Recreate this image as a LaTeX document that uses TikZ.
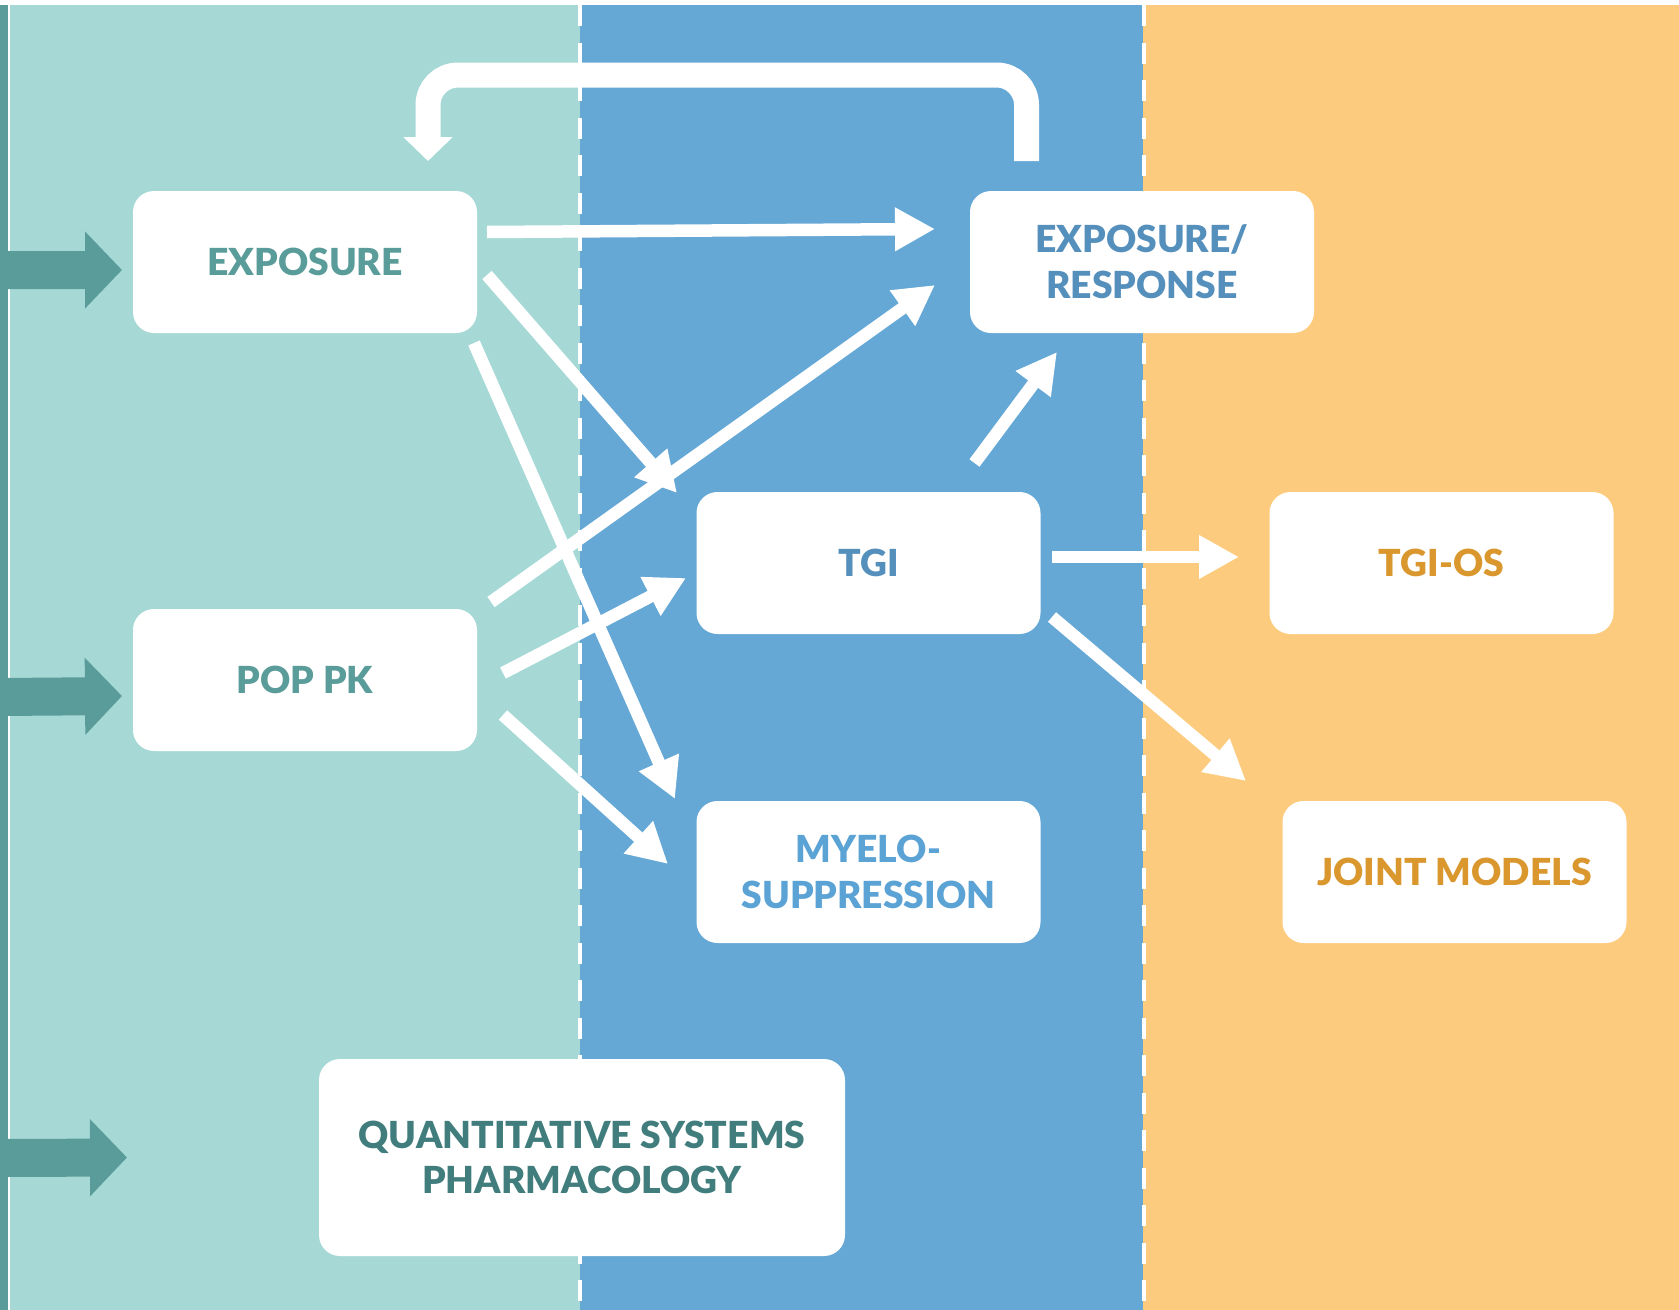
\documentclass[tikz,border=0pt]{standalone}
\usepackage{fontspec}
\setmainfont{Lato}[BoldFont={Lato Black}]
\usetikzlibrary{positioning, arrows.meta}

\definecolor{tealbg}{HTML}{A6D9D6}
\definecolor{tealdark}{HTML}{5A9C99}
\definecolor{qsptext}{HTML}{407D7C}
\definecolor{bluebg}{HTML}{65A8D6}
\definecolor{bluetext}{HTML}{5590BD}
\definecolor{myelotext}{HTML}{5BA2D5}
\definecolor{orangebg}{HTML}{FDCB7E}
\definecolor{orangetext}{HTML}{D9972E}

\begin{document}
\begin{tikzpicture}[
        box/.style={rectangle, fill=white, rounded corners=0.21cm, minimum width=3.44cm, minimum height=1.42cm, align=center, inner sep=0pt, outer sep=0pt, font=\fontsize{10.6}{13}\selectfont\bfseries},
        flow/.style={white, line width=0.125cm, -{Triangle[length=0.4cm, width=0.41cm]}},
        inflow/.style={tealdark, line width=0.38cm, -{Triangle[length=0.37cm, width=0.75cm]}},
        lane/.style={white, line width=0.035cm, dash pattern=on 0.21cm off 0.165cm}
    ]
        \useasboundingbox (0,0) rectangle (16.79,-13.10);

        %-----Lanes-----
        \fill[white] (0,0) rectangle (16.79,-13.10);
        \fill[tealdark] (0,-0.045) rectangle (0.08,-13.10);
        \fill[tealbg] (0.10,-0.045) rectangle (5.80,-13.10);
        \fill[bluebg] (5.80,-0.045) rectangle (11.43,-13.10);
        \fill[orangebg] (11.43,-0.045) rectangle (16.79,-13.10);
        \draw[lane] (5.80,-0.05) -- (5.80,-13.10);
        \draw[lane] (11.44,-0.05) -- (11.44,-13.10);

        %-----Entities-----

        % Exposure Entity
        \node[box, text=tealdark] (expo) at (3.05,-2.62) {EXPOSURE};

        % Pop PK Entity
        \node[box, text=tealdark, below=2.76cm of expo] (popk) {POP PK};

        % Exposure/Response Entity
        \node[box, text=bluetext, right=4.93cm of expo] (expr) {EXPOSURE/\\RESPONSE};

        % TGI Entity
        \node[box, text=bluetext] (tgi) at (8.685,-5.63) {TGI};

        % TGI-OS Entity
        \node[box, text=orangetext, right=2.29cm of tgi] (tgios) {TGI-OS};

        % Myelosuppression Entity
        \node[box, text=myelotext, below=1.67cm of tgi] (myelo) {MYELO-\\SUPPRESSION};

        % Joint Models Entity
        \node[box, text=orangetext, right=2.42cm of myelo] (joint) {JOINT MODELS};

        % QSP Entity
        \node[box, text=qsptext, minimum width=5.26cm, minimum height=1.97cm] (qsp) at (5.82,-11.575) {QUANTITATIVE SYSTEMS\\PHARMACOLOGY};

        %-----Inputs-----
        \coordinate (in1) at (0,-2.70);
        \coordinate (in2) at (0,-6.97);
        \coordinate (in3) at (0,-11.58);
        \draw[inflow] (in1) -- ([shift={(-0.11,-0.08)}]expo.west);
        \draw[inflow] (in2) -- ([shift={(-0.11,-0.16)}]popk.west);
        \draw[inflow] (in3) -- ([shift={(-1.92,0)}]qsp.west);

        %-----Connections-----

        % Connect Exposure to Exposure/Response
        \draw[flow] ([shift={(0.10,0.30)}]expo.east) -- ([shift={(-0.35,0.33)}]expr.west);

        % Connect Exposure to TGI
        \draw[flow] ([shift={(0.10,-0.13)}]expo.east) -- ([shift={(-0.195,-0.01)}]tgi.north west);

        % Connect Exposure to Myelosuppression
        \draw[flow] ([shift={(-0.03,-0.10)}]expo.south east) -- ([shift={(-0.215,0.02)}]myelo.north west);

        % Connect Pop PK to Exposure/Response
        \draw[flow] ([shift={(0.14,0.07)}]popk.north east) -- ([shift={(-0.35,-0.23)}]expr.west);

        % Connect Pop PK to TGI
        \draw[flow] ([shift={(0.26,0.07)}]popk.east) -- ([shift={(-0.105,-0.15)}]tgi.west);

        % Connect Pop PK to Myelosuppression
        \draw[flow] ([shift={(0.26,-0.35)}]popk.east) -- ([shift={(-0.285,0.08)}]myelo.west);

        % Connect TGI to Exposure/Response
        \draw[flow] ([shift={(-0.66,0.29)}]tgi.north east) -- ([shift={(0.87,-0.19)}]expr.south west);

        % Connect TGI to TGI-OS
        \draw[flow] ([shift={(0.115,0.06)}]tgi.east) -- ([shift={(-0.305,0.06)}]tgios.west);

        % Connect TGI to Joint Models
        \draw[flow] ([shift={(0.115,0.17)}]tgi.south east) -- ([shift={(-0.365,0.20)}]joint.north west);

        % Feedback from Exposure/Response to Exposure
        \draw[white, line width=0.25cm, rounded corners=0.3cm, -{Triangle[length=0.24cm, width=0.48cm]}] ([shift={(-1.155,0.30)}]expr.north) -- ++(0,0.86) -| ([shift={(1.23,0.30)}]expo.north);

\end{tikzpicture}
\end{document}
